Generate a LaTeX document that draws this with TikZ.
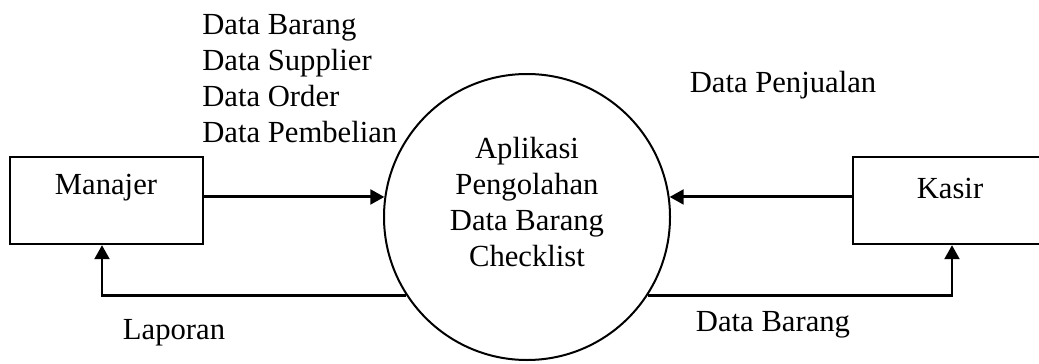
\documentclass[tikz,border=0pt]{standalone}
\usepackage{fontspec}
\setmainfont{Liberation Serif}
\usetikzlibrary{arrows.meta}

\begin{document}
\begin{tikzpicture}[x=0.75pt,y=-0.75pt,
		entity/.style={draw, line width=1.7pt, minimum width=144.75pt, minimum height=65.25pt, inner sep=0pt},
		proses/.style={draw, circle, line width=1.5pt, minimum size=214.5pt, inner sep=0pt},
		flow/.style={line width=2.2pt, -{Triangle[length=10.5pt,width=11pt]}},
		teks/.style={font=\fontsize{23}{27}\selectfont, inner sep=0pt, align=center}]
	\useasboundingbox (0,0) rectangle (1039,364);
	\fill[white] (0,0) rectangle (1039,364);

	% entitas dan proses
	\node[entity] (manajer) at (106.5,200.5) {};
	\node[entity] (kasir) at (949.5,200.5) {};
	\node[proses] (aplikasi) at (527,217) {};

	\node[teks] (tmanajer) at (106,188) {Manajer};
	\node[teks] (tkasir) at (950,188) {Kasir};
	\node[teks] (taplikasi) at (527,202) {Aplikasi\\Pengolahan\\Data Barang\\Checklist};

	% aliran data
	\coordinate (kiri) at (102,295);
	\coordinate (kanan) at (952,295);
	\draw[flow] (manajer.east |- aplikasi.172) -- (aplikasi.172);
	\draw[flow] (kasir.west |- aplikasi.8) -- (aplikasi.8);
	\draw[flow] (aplikasi.213) -- (aplikasi.213 -| kiri) -- (manajer.south -| kiri);
	\draw[flow] (aplikasi.-33) -- (aplikasi.-33 -| kanan) -- (kasir.south -| kanan);

	% label
	\node[teks, anchor=west, align=left] (tmasuk) at (202,79) {Data Barang\\Data Supplier\\Data Order\\Data Pembelian};
	\node[teks] (tjual) at (783,85) {Data Penjualan};
	\node[teks] (tlaporan) at (174,333) {Laporan};
	\node[teks] (tbarang) at (773,325) {Data Barang};
\end{tikzpicture}
\end{document}
